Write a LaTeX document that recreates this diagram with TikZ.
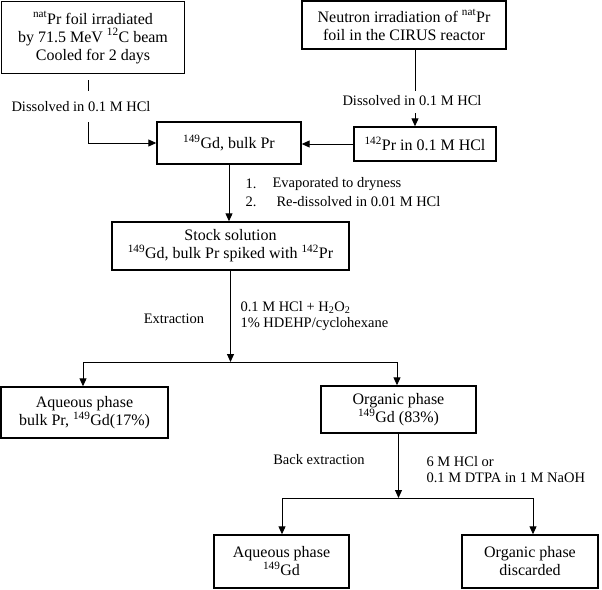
\documentclass[tikz,border=0pt]{standalone}
\usepackage{fontspec}
\setmainfont{Liberation Serif}
\usetikzlibrary{arrows.meta}
\newcommand{\bxfont}{\fontsize{16}{18}\selectfont}
\newcommand{\lbfont}{\fontsize{14.5}{16}\selectfont}
\newcommand{\sps}[1]{\textsuperscript{#1}}
\begin{document}
\begin{tikzpicture}[x=1pt,y=-1pt,
  >={Triangle[length=8pt,width=7pt]},
  line width=1pt,
  box/.style={draw,line width=1.4pt,align=center,font=\bxfont,inner sep=0pt},
  lab/.style={font=\lbfont,inner sep=0pt,align=left}]
\useasboundingbox (0,0) rectangle (602,589);
% boxes
\node[box,minimum width=183pt,minimum height=72pt] (b1) at (93,37.5)
  {\sps{nat}Pr foil irradiated\\by 71.5 MeV \sps{12}C beam\\Cooled for 2 days};
\node[box,minimum width=204pt,minimum height=48pt] (b2) at (404,25)
  {Neutron irradiation of \sps{nat}Pr\\foil in the CIRUS reactor};
\node[box,minimum width=144pt,minimum height=42pt] (b3) at (229,143)
  {\sps{149}Gd, bulk Pr};
\node[box,minimum width=142pt,minimum height=34pt] (b4) at (425,144)
  {\sps{142}Pr in 0.1 M HCl};
\node[box,minimum width=237pt,minimum height=48pt] (b5) at (230.5,246)
  {Stock solution\\\sps{149}Gd, bulk Pr spiked with \sps{142}Pr};
\node[box,minimum width=167pt,minimum height=51pt] (b6) at (84.5,412.5)
  {Aqueous phase\\bulk Pr, \sps{149}Gd(17\%)};
\node[box,minimum width=155pt,minimum height=47pt] (b7) at (398.5,409.5)
  {Organic phase\\\sps{149}Gd (83\%)};
\node[box,minimum width=135pt,minimum height=53pt] (b8) at (281.5,561.5)
  {Aqueous phase\\\sps{149}Gd};
\node[box,minimum width=136pt,minimum height=53pt] (b9) at (530,561.5)
  {Organic phase\\discarded};
% labels
\node[lab] (l1) at (81,107) {Dissolved in 0.1 M HCl};
\node[lab] (l2) at (412,101) {Dissolved in 0.1 M HCl};
\node[lab,anchor=west] (n1) at (245,184) {1.};
\node[lab,anchor=west] (t1) at (272,184) {Evaporated to dryness};
\node[lab,anchor=west] (n2) at (245,202) {2.};
\node[lab,anchor=west] (t2) at (276,202) {Re-dissolved in 0.01 M HCl};
\node[lab] (ex) at (174,319) {Extraction};
\node[lab,anchor=west] (ex2) at (240,316)
  {0.1 M HCl + H\textsubscript{2}O\textsubscript{2}\\1\% HDEHP/cyclohexane};
\node[lab] (bx) at (319,460) {Back extraction};
\node[lab,anchor=west] (bx2) at (426,469.5)
  {6 M HCl or\\0.1 M DTPA in 1 M NaOH};
% connectors
\coordinate (c1a) at (88,80);
\coordinate (c1b) at (88,91);
\coordinate (c1c) at (88,122);
\draw (c1a) -- (c1b);
\draw[->] (c1c) |- (b3.west);
\coordinate (c2a) at (415,91);
\coordinate (c2b) at (415,113);
\draw (b2.south -| c2a) -- (c2a);
\draw[->] (c2b) -- (c2b |- b4.north);
\draw[->] (b4.west) -- (b4.west -| b3.east);
\draw[->] (b3.south) -- (b3.south |- b5.north);
\coordinate (j1) at (230.5,362);
\coordinate (j1l) at (83,362);
\coordinate (j1r) at (397,362);
\draw[->] (b5.south) -- (j1);
\draw (j1l) -- (j1r);
\draw[->] (j1l) -- (j1l |- b6.north);
\draw[->] (j1r) -- (j1r |- b7.north);
\coordinate (j2) at (398.5,498);
\coordinate (j2l) at (282,498);
\coordinate (j2r) at (533,498);
\draw[->] (b7.south) -- (j2);
\draw (j2l) -- (j2r);
\draw[->] (j2l) -- (j2l |- b8.north);
\draw[->] (j2r) -- (j2r |- b9.north);
\end{tikzpicture}
\end{document}
